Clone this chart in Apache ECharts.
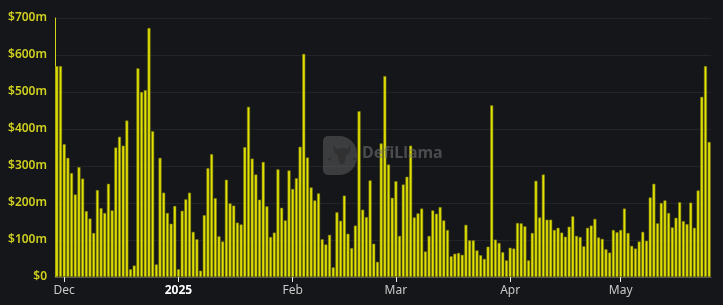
<!DOCTYPE html>
<html>
<head>
<meta charset="utf-8">
<script src="https://cdn.jsdelivr.net/npm/echarts@6/dist/echarts.min.js"></script>
<style>
html,body{margin:0;padding:0;background:#151619;}
#c{width:723px;height:305px;}
</style>
</head>
<body>
<div id="c"></div>
<script>
// Daily values in $m, Nov 29 2024 .. May 25 2025
const startDate = '2024-11-29';
const nov = [570, 570];
const dec = [359, 322, 281, 223, 297, 266, 178, 158, 119, 235, 186, 173, 252, 180, 350, 379, 355, 423, 21, 31, 564, 500, 505, 673, 394, 34, 322, 228, 173, 144, 192];
const jan = [21, 179, 210, 228, 122, 102, 17, 167, 294, 332, 213, 110, 96, 263, 199, 193, 147, 142, 351, 460, 320, 277, 209, 311, 191, 108, 120, 291, 187, 153, 288];
const feb = [238, 267, 352, 603, 323, 242, 207, 226, 102, 88, 114, 26, 175, 152, 220, 117, 78, 139, 448, 182, 162, 261, 90, 41, 361, 543, 304, 214];
const mar = [259, 111, 250, 271, 355, 161, 172, 185, 69, 111, 180, 171, 189, 153, 127, 56, 63, 65, 60, 141, 99, 99, 72, 59, 49, 82, 464, 101, 92, 67, 45];
const apr = [79, 77, 146, 145, 137, 45, 119, 260, 161, 277, 155, 155, 127, 133, 120, 109, 136, 164, 111, 108, 83, 133, 139, 157, 107, 103, 75, 66, 127, 121];
const may = [127, 185, 119, 84, 77, 96, 122, 98, 215, 252, 145, 200, 207, 173, 134, 160, 202, 151, 143, 201, 133, 234, 487, 570, 365];
const yTicks = [0, 100, 200, 300, 400, 500, 600, 700];
const monthNames = ['Jan','Feb','Mar','Apr','May','Jun','Jul','Aug','Sep','Oct','Nov','Dec'];

const values = [].concat(nov, dec, jan, feb, mar, apr, may);
const categories = [];
(function(){
  const d = new Date(startDate + 'T00:00:00Z');
  for (let i = 0; i < values.length; i++) {
    const y = d.getUTCFullYear(), m = d.getUTCMonth() + 1, dd = d.getUTCDate();
    categories.push(y + '-' + String(m).padStart(2,'0') + '-' + String(dd).padStart(2,'0'));
    d.setUTCDate(d.getUTCDate() + 1);
  }
})();

const isMonthStart = (idx, val) => categories[idx].endsWith('-01');

const chart = echarts.init(document.getElementById('c'), null, {renderer: 'canvas'});
chart.setOption({
  backgroundColor: '#151619',
  animation: false,
  grid: {left: 55, right: 12, top: 18, bottom: 28, containLabel: false},
  xAxis: {
    type: 'category',
    data: categories,
    boundaryGap: true,
    axisLine: {show: true, lineStyle: {color: '#55565a', width: 1}},
    axisTick: {show: true, interval: isMonthStart, alignWithLabel: true, length: 5, lineStyle: {color: '#e8e8e8', width: 1}},
    axisLabel: {
      interval: isMonthStart,
      margin: 8,
      fontFamily: 'Noto Sans',
      fontSize: 12,
      color: '#c9c9c9',
      formatter: function (v) {
        const parts = v.split('-');
        const m = parseInt(parts[1], 10);
        if (m === 1) return '{b|' + parts[0] + '}';
        return monthNames[m - 1];
      },
      rich: {b: {fontFamily: 'Noto Sans', fontSize: 12, fontWeight: 'bold', color: '#ffffff'}}
    },
    splitLine: {show: false}
  },
  yAxis: {
    type: 'value',
    min: yTicks[0],
    max: yTicks[yTicks.length - 1],
    interval: 100,
    axisLine: {show: true, lineStyle: {color: '#d4d41c', width: 1}},
    axisTick: {show: false},
    axisLabel: {
      margin: 8,
      fontFamily: 'Noto Sans',
      fontSize: 12,
      fontWeight: 600,
      color: '#cfcf1f',
      formatter: v => v === 0 ? '$0' : '$' + v + 'm'
    },
    splitLine: {show: true, lineStyle: {color: '#232428', width: 1}}
  },
  graphic: [
    {type: 'rect', left: 323, top: 136, shape: {width: 34, height: 39, r: [5, 18, 18, 5]}, style: {fill: 'rgba(100,100,100,0.5)'}, z: 100},
    {type: 'polygon', z: 101, shape: {points: [[333,144],[336,149],[342,148],[348,149],[351,144],[350,152],[346,156],[344,164],[340,164],[338,156],[334,152]]}, style: {fill: 'rgba(45,45,45,0.75)'}},
    {type: 'line', z: 101, shape: {x1: 328, y1: 160, x2: 331, y2: 158}, style: {stroke: 'rgba(40,40,40,0.7)', lineWidth: 1.5}},
    {type: 'line', z: 101, shape: {x1: 353, y1: 158, x2: 356, y2: 160}, style: {stroke: 'rgba(40,40,40,0.7)', lineWidth: 1.5}},
    {type: 'text', left: 362, top: 145, style: {text: 'DefiLlama', fontFamily: 'Noto Sans', fontSize: 16, fontWeight: 'bold', fill: 'rgba(120,120,120,0.55)'}, z: 100}
  ],
  series: [{
    type: 'bar',
    data: values,
    barCategoryGap: '18%',
    itemStyle: {color: '#e3e300', borderColor: '#7e7e10', borderWidth: 0.6},
    z: 2
  }]
});
</script>
</body>
</html>
